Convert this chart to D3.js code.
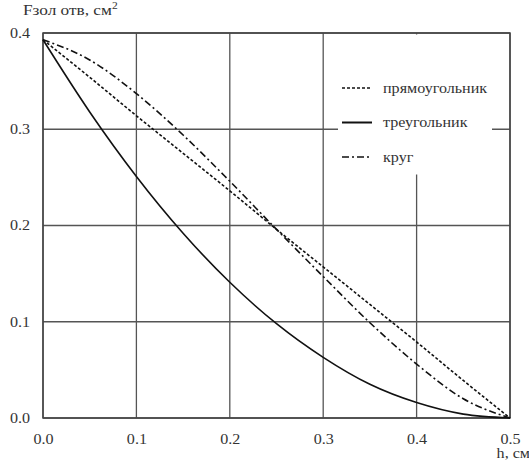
<!DOCTYPE html>
<html>
<head>
<meta charset="utf-8">
<script src="https://cdn.jsdelivr.net/npm/d3@7"></script>
<style>
	body { margin: 0; background: #fff; }
</style>
</head>
<body>
<div id="chart"></div>
<script>
	'use strict';

	// h, см
	var hValues = [0, 0.05, 0.1, 0.15, 0.2, 0.25, 0.3, 0.35, 0.4, 0.45, 0.5];
	// Fзол отв, см2
	var rectValues = [0.393, 0.354, 0.314, 0.275, 0.236, 0.196, 0.157, 0.118, 0.079, 0.039, 0];
	var triValues = [0.393, 0.318, 0.251, 0.192, 0.141, 0.098, 0.063, 0.035, 0.016, 0.004, 0];
	var circleValues = [0.393, 0.372, 0.337, 0.294, 0.246, 0.196, 0.147, 0.099, 0.056, 0.020, 0];

	var xTicks = [0, 0.1, 0.2, 0.3, 0.4, 0.5];
	var yTicks = [0, 0.1, 0.2, 0.3, 0.4];
	var seriesNames = ['прямоугольник', 'треугольник', 'круг'];
	var seriesDash = ['3,2', null, '7,3,2,3'];

	var width = 529, height = 468;
	var margin = { top: 33, right: 19, bottom: 50, left: 43 };
	var stretch = 'scale(1.15,1)'; // the scanned text is a little wide

	function font(size) {
		return "font-family:'Liberation Serif';font-size:" + size + "px";
	}

	var svg = d3.select('#chart').append('svg')
		.attr('width', width)
		.attr('height', height);

	// scales
	var x = d3.scaleLinear().domain([0, 0.5]).range([margin.left, width - margin.right]);
	var y = d3.scaleLinear().domain([0, 0.4]).range([height - margin.bottom, margin.top]);

	// grid
	var grid = svg.append('g').attr('stroke', '#555').attr('stroke-width', 1.3);
	grid.selectAll('.vx').data(xTicks).enter().append('line')
		.attr('x1', function (d) { return x(d); }).attr('x2', function (d) { return x(d); })
		.attr('y1', y(0)).attr('y2', y(0.4));
	grid.selectAll('.hy').data(yTicks).enter().append('line')
		.attr('y1', function (d) { return y(d); }).attr('y2', function (d) { return y(d); })
		.attr('x1', x(0)).attr('x2', x(0.5));

	// legend background hides the grid behind it
	svg.append('rect')
		.attr('x', 338).attr('y', y(0.4) + 1.5)
		.attr('width', 154).attr('height', 140)
		.attr('fill', '#fff');

	// frame
	svg.append('rect')
		.attr('x', x(0)).attr('y', y(0.4))
		.attr('width', x(0.5) - x(0)).attr('height', y(0) - y(0.4))
		.attr('fill', 'none').attr('stroke', '#444').attr('stroke-width', 1.5);

	// axes (labels only)
	var xAxis = svg.append('g')
		.attr('transform', 'translate(0,' + y(0) + ')')
		.call(d3.axisBottom(x).tickValues(xTicks).tickFormat(d3.format('.1f')).tickSize(0).tickPadding(16));
	xAxis.select('.domain').remove();

	var yAxis = svg.append('g')
		.attr('transform', 'translate(' + x(0) + ',0)')
		.call(d3.axisLeft(y).tickValues(yTicks).tickFormat(d3.format('.1f')).tickSize(0).tickPadding(11.3));
	yAxis.select('.domain').remove();

	svg.selectAll('.tick text')
		.attr('style', font(14))
		.attr('fill', '#333')
		.attr('transform', stretch);

	// axis titles
	var yTitle = svg.append('text')
		.attr('transform', 'translate(23,15) ' + stretch)
		.attr('fill', '#333')
		.attr('style', font(15));
	yTitle.append('tspan').text('Fзол отв, см');
	yTitle.append('tspan').attr('dy', -6).attr('style', font(10)).text('2');

	svg.append('text')
		.attr('transform', 'translate(530,458) ' + stretch)
		.attr('text-anchor', 'end')
		.attr('fill', '#333')
		.attr('style', font(14))
		.text('h, см');

	// curves
	var allValues = [rectValues, triValues, circleValues];
	var line = d3.line()
		.x(function (d) { return x(d[0]); })
		.y(function (d) { return y(d[1]); })
		.curve(d3.curveMonotoneX);

	allValues.forEach(function (vals, i) {
		svg.append('path')
			.datum(d3.zip(hValues, vals))
			.attr('fill', 'none')
			.attr('stroke', '#111')
			.attr('stroke-width', 1.6)
			.attr('stroke-dasharray', seriesDash[i])
			.attr('d', line);
	});

	// legend
	var legend = svg.append('g');
	var rows = legend.selectAll('g').data(seriesNames).enter().append('g')
		.attr('transform', function (d, i) { return 'translate(342,' + (88 + i * 34.5) + ')'; });
	rows.append('line')
		.attr('x1', 0).attr('x2', 30)
		.attr('stroke', '#111')
		.attr('stroke-width', function (d, i) { return i === 1 ? 2 : 1.6; })
		.attr('stroke-dasharray', function (d, i) { return seriesDash[i]; });
	rows.append('text')
		.attr('transform', 'translate(41,0) ' + stretch)
		.attr('dy', '0.35em')
		.attr('fill', '#333')
		.attr('style', font(14))
		.text(function (d) { return d; });
</script>
</body>
</html>
